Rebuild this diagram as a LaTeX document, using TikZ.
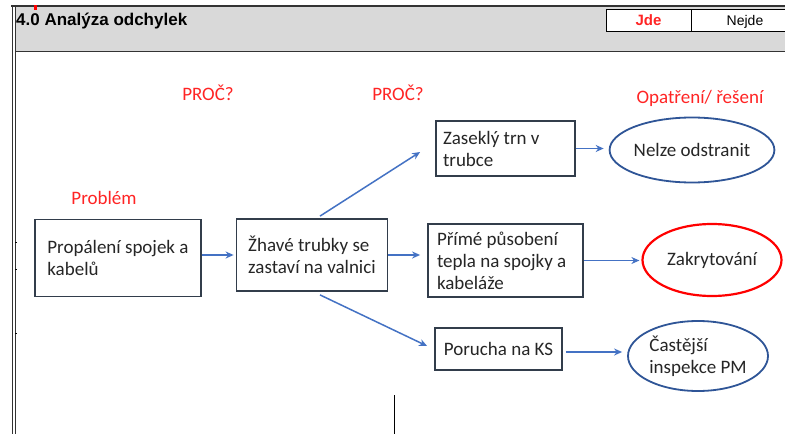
\documentclass[tikz,border=0pt]{standalone}
\usepackage{fontspec}
\setmainfont{Carlito}
\newfontfamily\hlavicka{Liberation Sans}
\usepackage{tikz}
\usetikzlibrary{arrows.meta,positioning,calc,shapes.geometric}
\definecolor{ramecek}{HTML}{323D4B}
\definecolor{modra}{HTML}{4472C4}
\definecolor{elipsa}{HTML}{2F5597}
\definecolor{cervena}{HTML}{FF0000}
\definecolor{cervtext}{HTML}{FF2424}
\definecolor{seda}{HTML}{D9D9D9}
\tikzset{
  %% Boxes (causes)
  krok/.style={draw=ramecek, line width=1.8pt, fill=white, align=flush left,
    font=\fontsize{19}{22}\selectfont, text=black!85, inner ysep=0pt},
  %% Ellipses (measures)
  reseni/.style={ellipse, draw=elipsa, line width=1.8pt, fill=white, align=flush left,
    font=\fontsize{19}{22}\selectfont, text=black!85, inner sep=0pt},
  %% Red headings
  nadpisek/.style={font=\fontsize{19}{22}\selectfont, text=cervtext},
  %% Arrows
  sipka/.style={-{Stealth[length=8pt,width=7pt]}, draw=modra, line width=1.5pt},
}

\begin{document}
\begin{tikzpicture}[x=1pt, y=-1pt]
\useasboundingbox (0,0) rectangle (785,434);
\fill[white] (0,0) rectangle (785,434);

%% Header band
\fill[seda] (15,7) rectangle (785,51);
\draw[black!80, line width=1.5pt] (11,6) -- (785,6);
\draw[black!80, line width=1.5pt] (15,51.5) -- (785,51.5);
\draw[black!80, line width=1pt] (12,6) -- (12,434);
\draw[black!80, line width=1pt] (15,6) -- (15,434);
\fill[cervena] (34,5) rectangle (37,10);
\node[font=\hlavicka\bfseries\fontsize{17}{18}\selectfont, anchor=base west, inner sep=0pt]
  (nadpis) at (16,25) {4.0 Analýza odchylek};
\draw[black, line width=1pt, fill=white] (606,9) rectangle (691,31);
\draw[black, line width=1pt, fill=white] (691,9) rectangle (790,31);
\node[font=\hlavicka\bfseries\fontsize{15}{16}\selectfont, text=cervtext, anchor=base, inner sep=0pt]
  (jde) at (648.5,25) {Jde};
\node[font=\hlavicka\fontsize{14}{16}\selectfont, anchor=base, inner sep=0pt]
  (nejde) at (745,25) {Nejde};

%% Small marks on the left edge and bottom
\draw[black, line width=0.8pt] (15,242) -- (17,242);
\draw[black, line width=0.8pt] (15,269) -- (17,269);
\draw[black, line width=0.8pt] (15,333) -- (17,333);
\draw[black, line width=1pt] (394,395) -- (394,434);

%% Red labels
\node[nadpisek] (proc1)    at (208,93)  {PROČ?};
\node[nadpisek] (proc2)    at (398,93)  {PROČ?};
\node[nadpisek] (problem)  at (104,198) {Problém};
\node[nadpisek] (opatreni) at (700,98)  {Opatření/ řešení};

%% Boxes
\node[krok, minimum width=166, minimum height=77] (propaleni) at (118,258)
  {Propálení spojek a\\kabelů};
\node[krok, minimum width=151, minimum height=72] (zhave) at (312,255)
  {Žhavé trubky se\\zastaví na valnici};
\node[krok, inner xsep=7pt, text width=125pt, minimum height=55] (zasekly) at (505.5,148.5)
  {Zaseklý trn v\\trubce};
\node[krok, inner xsep=9pt, text width=137pt, minimum height=73] (primy) at (505.5,260.5)
  {Přímé působení\\tepla na spojky a\\kabeláže};
\node[krok, minimum width=127, minimum height=42] (porucha) at (498.5,349)
  {Porucha na KS};

%% Ellipses
\node[reseni, minimum width=139, minimum height=65] (nelze) at (692,150)
  {Nelze odstranit};
\node[reseni, draw=cervena, line width=2.2pt, minimum width=139, minimum height=72] (zakryt) at (712,260)
  {Zakrytování};
\node[reseni, minimum width=140, minimum height=70] (castejsi) at (698,356)
  {Častější\\inspekce PM};

%% Connectors
\draw[sipka, shorten >=2pt] (propaleni.east |- zhave.west) -- (zhave.west);
\draw[sipka] ([xshift=8pt,yshift=2pt]zhave.north) -- ([xshift=-15pt,yshift=-3.5pt]zasekly.west);
\draw[sipka, shorten >=7pt] (zhave.east) -- (zhave.east -| primy.west);
\draw[sipka] ([xshift=8pt,yshift=-3pt]zhave.south) -- ([xshift=-7pt,yshift=3pt]porucha.west);
\draw[sipka, shorten >=5pt] (zasekly.east) -- (zasekly.east -| nelze.west);
\draw[sipka, shorten >=2pt] (primy.east) -- (primy.east -| zakryt.west);
\draw[sipka, shorten <=3pt, shorten >=5pt] ([yshift=-3pt]porucha.east) -- ([yshift=-3pt]porucha.east -| castejsi.west);

\end{tikzpicture}
\end{document}
